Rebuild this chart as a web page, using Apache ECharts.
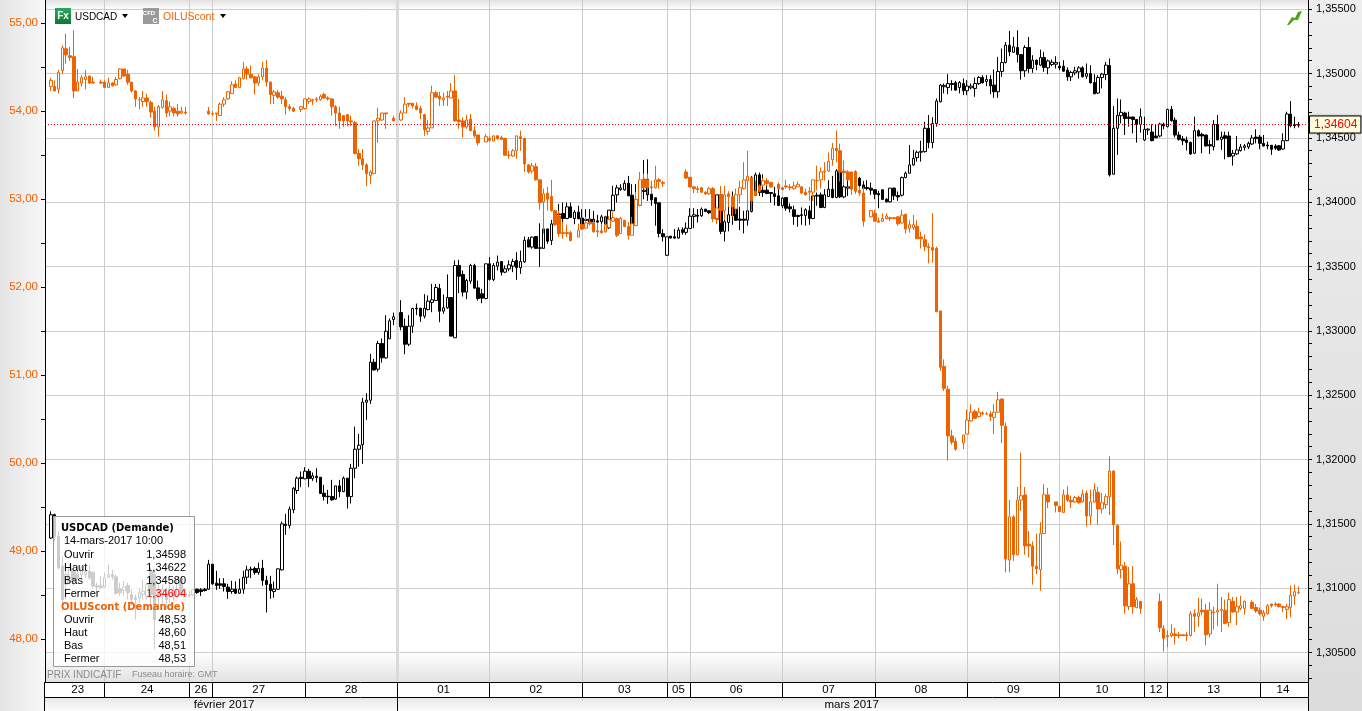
<!DOCTYPE html>
<html><head><meta charset="utf-8">
<style>html,body{margin:0;padding:0;background:#fff}#c{width:1362px;height:711px}</style>
<script src="https://cdn.jsdelivr.net/npm/echarts@6/dist/echarts.min.js"></script>
</head><body><div id="c"></div>
<script>
// rows are [open, close, low, high]
const usdFeb23 = [[1.3139,1.31571,1.31382,1.31597],[1.31571,1.31403,1.31364,1.31579],[1.31403,1.31158,1.31145,1.31442],[1.31171,1.30912,1.30822,1.31248],[1.31028,1.31106,1.30912,1.31132],[1.31054,1.31158,1.31028,1.31183],[1.31132,1.31054,1.31016,1.31145],[1.31106,1.3108,1.31067,1.31171],[1.31106,1.31158,1.3108,1.31171],[1.31106,1.31132,1.3108,1.31183],[1.31132,1.3108,1.31067,1.31176],[1.31124,1.31016,1.31003,1.31132],[1.31021,1.3101,1.30977,1.31041],[1.31016,1.31003,1.30995,1.31093],[1.3101,1.3108,1.31003,1.31119],[1.31085,1.31106,1.3108,1.31183],[1.31106,1.31088,1.31067,1.31145],[1.31088,1.30959,1.30951,1.31106],[1.30995,1.30964,1.30938,1.31041],[1.30984,1.3101,1.30938,1.31054],[1.31021,1.30964,1.30912,1.31041],[1.30951,1.30912,1.3086,1.3099],[1.30925,1.30912,1.30757,1.30951],[1.30925,1.30964,1.30886,1.31003],[1.30951,1.30977,1.30912,1.31067],[1.30938,1.31028,1.30912,1.31041],[1.31132,1.30951,1.30835,1.31158],[1.31106,1.30757,1.30525,1.31145],[1.3099,1.30938,1.30848,1.31028],[1.30951,1.3099,1.30873,1.31028],[1.30964,1.30912,1.30835,1.31003],[1.30938,1.3099,1.30886,1.31028],[1.30977,1.30938,1.30899,1.31016],[1.30951,1.31067,1.30938,1.3108],[1.3108,1.30951,1.30938,1.31093],[1.30938,1.30964,1.30933,1.3099],[1.30938,1.30951,1.30938,1.30977]];
const usdFeb26 = [[1.30948,1.30987,1.3094,1.30992],[1.30992,1.30966,1.30956,1.30995],[1.30987,1.30974,1.3094,1.31],[1.30992,1.30982,1.30974,1.31],[1.30992,1.31186,1.30987,1.3122],[1.31186,1.31034,1.31026,1.31186],[1.31039,1.31021,1.30987,1.31135],[1.31034,1.31023,1.30995,1.31078],[1.31034,1.31013,1.30974,1.31078],[1.31008,1.30974,1.30917,1.31034],[1.30974,1.30992,1.30956,1.31057],[1.30992,1.30961,1.30956,1.31052],[1.30961,1.30992,1.30956,1.31073],[1.30992,1.31085,1.30956,1.31135],[1.31085,1.31142,1.31034,1.31174],[1.31148,1.31142,1.31078,1.31168],[1.31153,1.31122,1.31104,1.31168],[1.31122,1.31153,1.31104,1.31199],[1.31155,1.3106,1.31018,1.3122],[1.3106,1.31028,1.30811,1.31096],[1.31031,1.30982,1.30917,1.31096],[1.30974,1.30992,1.30925,1.31052],[1.30992,1.3115,1.30987,1.31155],[1.31142,1.315,1.31137,1.31518],[1.31497,1.31487,1.31414,1.31578],[1.31487,1.31614,1.31464,1.31635],[1.31609,1.31777,1.31583,1.31785],[1.31759,1.31855,1.31733,1.31868],[1.31862,1.31852,1.31785,1.31907],[1.3185,1.31909,1.31847,1.3194],[1.31909,1.31852,1.31785,1.31927],[1.31852,1.31873,1.31834,1.31899],[1.3187,1.3186,1.31821,1.31932],[1.31862,1.31736,1.31733,1.31862],[1.31738,1.31712,1.31681,1.31803],[1.31715,1.3171,1.31655,1.31764],[1.31712,1.31686,1.31681,1.31842],[1.31692,1.31795,1.31686,1.31795],[1.31795,1.31751,1.31707,1.31842],[1.31751,1.31855,1.31746,1.31868],[1.31855,1.31712,1.31619,1.31855],[1.31712,1.31932,1.31658,1.31966],[1.31932,1.3208,1.31855,1.32256],[1.3208,1.32111,1.31945,1.32199],[1.32116,1.32445,1.31966,1.32479],[1.32445,1.32461,1.32308,1.32515],[1.32461,1.32756,1.32432,1.32821],[1.32756,1.32696,1.32691,1.32782],[1.32702,1.32902,1.32683,1.32922],[1.32902,1.3279,1.32753,1.32941],[1.3279,1.32997,1.32782,1.33122],[1.32938,1.33078,1.32936,1.33096],[1.33088,1.33109,1.33044,1.33142],[1.33109,1.33142,1.33096,1.33192],[1.33142,1.33031,1.33005,1.33238],[1.33036,1.32896,1.32818,1.33096],[1.32896,1.33036,1.32881,1.33122],[1.33036,1.33174,1.32984,1.33179],[1.33176,1.33171,1.33122,1.33212],[1.33176,1.33114,1.3307,1.33176],[1.33114,1.33176,1.33096,1.33285]];
const usdMar01 = [[1.33166,1.33231,1.33158,1.33275],[1.3322,1.33241,1.33145,1.33365],[1.33236,1.33337,1.33236,1.33365],[1.33329,1.33153,1.33067,1.33365],[1.33153,1.33179,1.33132,1.33282],[1.33179,1.33259,1.33171,1.33438],[1.33259,1.32959,1.32959,1.33259],[1.32946,1.33508,1.32946,1.33547],[1.33508,1.33425,1.33293,1.33552],[1.33438,1.33301,1.33267,1.33469],[1.33301,1.33391,1.33246,1.33404],[1.33386,1.33508,1.33365,1.33521],[1.33508,1.33332,1.33326,1.33521],[1.33334,1.33251,1.33236,1.33391],[1.33288,1.33254,1.33215,1.33326],[1.33251,1.33521,1.33246,1.33521],[1.33521,1.33399,1.33391,1.33573],[1.33399,1.33508,1.33386,1.33526],[1.33503,1.33534,1.33469,1.33585],[1.33539,1.33456,1.3343,1.33539],[1.33456,1.33482,1.33448,1.33508],[1.33482,1.33513,1.33464,1.33547],[1.33503,1.33539,1.33456,1.3356],[1.33547,1.3349,1.33396,1.33611],[1.3349,1.33539,1.33443,1.33624],[1.33536,1.33703,1.33528,1.33733],[1.33708,1.33651,1.33651,1.3373],[1.33651,1.33728,1.33638,1.33733],[1.33733,1.33641,1.33638,1.33733],[1.33641,1.33646,1.33497,1.33836],[1.33641,1.33792,1.33638,1.33797],[1.33792,1.33697,1.33677,1.33792],[1.33703,1.33831,1.33667,1.33862],[1.33887,1.33831,1.33826,1.33933],[1.33908,1.33903,1.33805,1.33985]];
const usdMar03 = [[1.33912,1.33873,1.33842,1.33997],[1.33873,1.33964,1.33868,1.33997],[1.33964,1.33881,1.33876,1.33997],[1.33873,1.33922,1.33829,1.33938],[1.33922,1.33871,1.33868,1.33972],[1.33876,1.33829,1.33791,1.33946],[1.33866,1.33858,1.33817,1.33946],[1.33868,1.3384,1.33829,1.33946],[1.33868,1.33845,1.33835,1.33933],[1.33855,1.33845,1.33835,1.33902],[1.33848,1.33886,1.33765,1.33902],[1.33886,1.33829,1.33765,1.33894],[1.33801,1.33938,1.33791,1.33938],[1.33933,1.34054,1.33933,1.34127],[1.34057,1.34111,1.33997,1.34134],[1.34098,1.34111,1.34088,1.3414],[1.34096,1.34147,1.3409,1.34171],[1.34147,1.34049,1.34049,1.34204],[1.34054,1.33829,1.33804,1.3414],[1.34018,1.33842,1.33829,1.3414],[1.34018,1.33977,1.33972,1.34171],[1.34083,1.34093,1.34023,1.34328],[1.34178,1.34057,1.3401,1.34333],[1.34062,1.34018,1.33972,1.34127],[1.34034,1.3399,1.33817,1.34034],[1.33995,1.33757,1.33726,1.33997],[1.33755,1.33731,1.33695,1.33791],[1.33587,1.33731,1.33584,1.33731],[1.33736,1.33721,1.33721,1.33736],[1.33731,1.33721,1.33716,1.33791],[1.33721,1.33783,1.33716,1.33804]];
const usdMar05 = [[1.33786,1.33765,1.33747,1.33804],[1.33765,1.33798,1.33747,1.33842],[1.33796,1.33891,1.33791,1.33953],[1.33889,1.33902,1.33798,1.33953],[1.33899,1.33891,1.33842,1.33946],[1.33894,1.33946,1.33886,1.33959],[1.33946,1.33928,1.33922,1.33946],[1.33933,1.33917,1.33907,1.33938],[1.33933,1.33873,1.33868,1.34049],[1.33868,1.34057,1.33855,1.34057],[1.34057,1.33773,1.33752,1.34057],[1.33773,1.33848,1.33695,1.33959],[1.33842,1.33902,1.33773,1.34031],[1.33894,1.33964,1.33824,1.34083],[1.33964,1.3386,1.33855,1.34049],[1.33868,1.3386,1.33783,1.33964],[1.33868,1.3386,1.33757,1.33933],[1.3386,1.33933,1.33817,1.33997],[1.33928,1.34057,1.3392,1.34204],[1.34054,1.34212,1.34049,1.3423],[1.34212,1.34075,1.34049,1.3423],[1.34093,1.34075,1.34041,1.34217],[1.34093,1.34067,1.34062,1.34171],[1.34075,1.34067,1.33997,1.34075],[1.34065,1.34044,1.33974,1.34119],[1.34049,1.33974,1.33969,1.34101],[1.33972,1.34031,1.33953,1.34041],[1.34036,1.33953,1.33933,1.34036],[1.33964,1.33948,1.3392,1.3399],[1.33941,1.33889,1.33824,1.33972],[1.33897,1.33889,1.33809,1.33902],[1.33902,1.33897,1.33824,1.33959],[1.33897,1.33941,1.33817,1.33953],[1.33933,1.33873,1.33824,1.33972],[1.33873,1.34049,1.33868,1.34049],[1.34054,1.34047,1.33972,1.34075],[1.34057,1.33959,1.33953,1.34075],[1.33959,1.34057,1.33953,1.34101],[1.34044,1.34101,1.34041,1.34171],[1.34101,1.34036,1.34031,1.34204],[1.34036,1.34243,1.34031,1.34256],[1.3423,1.34041,1.34031,1.3423],[1.34041,1.34119,1.34031,1.3423],[1.34109,1.34119,1.34049,1.3423],[1.3423,1.34103,1.34098,1.3423],[1.34235,1.34186,1.34178,1.34235],[1.34186,1.34129,1.34119,1.34196],[1.34134,1.34106,1.34057,1.34165],[1.34114,1.34106,1.34093,1.34171],[1.34109,1.34093,1.34057,1.34152],[1.34096,1.34062,1.34023,1.34101],[1.34067,1.34057,1.33953,1.34088],[1.34096,1.34021,1.34016,1.34101],[1.34023,1.34003,1.33997,1.34031],[1.34003,1.34109,1.33997,1.34109],[1.34109,1.34049,1.34016,1.34114],[1.34052,1.34041,1.3401,1.34083]];
const usdMar08 = [[1.34054,1.34191,1.34044,1.34199],[1.34191,1.34225,1.34186,1.34238],[1.34225,1.34289,1.34225,1.34444],[1.34289,1.34341,1.34284,1.34406],[1.34346,1.34388,1.34315,1.34401],[1.34388,1.34395,1.34315,1.34478],[1.34393,1.34574,1.34385,1.34625],[1.34574,1.34463,1.34419,1.34677],[1.34463,1.34612,1.34419,1.34659],[1.34612,1.34786,1.34587,1.34806],[1.3478,1.3491,1.34775,1.34917],[1.34897,1.34907,1.34845,1.34922],[1.34891,1.34922,1.3484,1.34995],[1.34922,1.34915,1.34866,1.34948],[1.34928,1.34871,1.34866,1.34943],[1.34891,1.3493,1.34845,1.34941],[1.34922,1.34866,1.34832,1.34961],[1.34866,1.34902,1.34832,1.34948],[1.34889,1.34902,1.34876,1.34922],[1.34884,1.34922,1.34819,1.34969],[1.34922,1.34969,1.3491,1.34979],[1.34969,1.34928,1.34922,1.34987],[1.34938,1.34953,1.34902,1.34987],[1.34953,1.34904,1.3484,1.34987],[1.3491,1.34858,1.34811,1.35031],[1.34858,1.35016,1.34811,1.35129],[1.35016,1.35085,1.34974,1.35194],[1.35085,1.3522,1.35078,1.35245],[1.3522,1.35168,1.35134,1.35331],[1.35165,1.35207,1.3516,1.35284],[1.35202,1.35147,1.35085,1.35336],[1.35147,1.35021,1.34953,1.35147],[1.35021,1.35202,1.34974,1.3522],[1.35202,1.35039,1.35005,1.35284],[1.35039,1.35103,1.35005,1.35142],[1.35103,1.3507,1.35026,1.35109],[1.35065,1.35124,1.35057,1.35186],[1.35124,1.35047,1.35013,1.35168],[1.35044,1.35098,1.34995,1.35109],[1.3507,1.35088,1.35057,1.35109],[1.35072,1.35085,1.35039,1.35134],[1.35057,1.35044,1.35026,1.3509],[1.35057,1.35018,1.35013,1.35103],[1.35026,1.34974,1.34943,1.35047],[1.34974,1.35008,1.34941,1.35021],[1.35005,1.35021,1.34987,1.35052],[1.35013,1.35044,1.34961,1.35057],[1.35044,1.34974,1.34969,1.35057],[1.34979,1.35,1.34959,1.35078],[1.35,1.34928,1.34922,1.35065],[1.3493,1.34842,1.3484,1.34995],[1.34848,1.34969,1.3484,1.34987],[1.34969,1.34995,1.34884,1.35005],[1.34992,1.35065,1.34948,1.3509]];
const usdMar10b = [[1.35062,1.34212,1.34199,1.35116],[1.34217,1.34574,1.34217,1.34747],[1.34574,1.34674,1.34367,1.34806],[1.34672,1.34698,1.34612,1.34798],[1.34693,1.34649,1.34522,1.34703],[1.34662,1.34651,1.34587,1.34703],[1.34662,1.34643,1.34535,1.34664],[1.34643,1.34605,1.34463,1.34643],[1.34605,1.34664,1.3454,1.34729],[1.34483,1.34566,1.34475,1.34664],[1.34561,1.34568,1.34522,1.34574],[1.34545,1.34478,1.34473,1.34605],[1.34514,1.34501,1.34496,1.34605],[1.34514,1.34607,1.34504,1.34618],[1.34607,1.34592,1.34566,1.34618],[1.34587,1.34721,1.34581,1.34726],[1.34721,1.34633,1.34625,1.34747],[1.34638,1.34522,1.34504,1.34659],[1.34522,1.34488,1.34478,1.34548],[1.34491,1.34478,1.34444,1.34514],[1.34483,1.34463,1.34401,1.34509],[1.34465,1.34375,1.34367,1.3447],[1.3438,1.34556,1.34375,1.34664],[1.34556,1.34514,1.34509,1.34566],[1.34527,1.34514,1.3438,1.3454],[1.34522,1.34437,1.34432,1.34522],[1.34447,1.34437,1.34375,1.34483],[1.34432,1.34605,1.34401,1.34638],[1.34605,1.34483,1.34483,1.34677],[1.34488,1.34506,1.34406,1.34548],[1.34517,1.34496,1.34333,1.34548],[1.34514,1.34354,1.34349,1.34548],[1.34359,1.3438,1.34284,1.34406],[1.34375,1.34406,1.34367,1.34514],[1.34401,1.34429,1.34393,1.34452],[1.34426,1.34437,1.34401,1.34452],[1.34429,1.34457,1.34413,1.3447],[1.34452,1.34499,1.34444,1.34522],[1.34506,1.34494,1.34457,1.34566],[1.34506,1.34457,1.34411,1.34522],[1.34457,1.34437,1.34432,1.34522],[1.34444,1.34437,1.34411,1.3447],[1.34442,1.34411,1.34367,1.34442],[1.34437,1.34419,1.34406,1.3445],[1.34439,1.34406,1.34398,1.34444],[1.34413,1.34478,1.34408,1.34535],[1.34478,1.34685,1.34475,1.34703],[1.34685,1.34594,1.34581,1.34786],[1.34602,1.34594,1.34574,1.34664],[1.34598,1.34604,1.3458,1.34622]];

const oilA = [[54.28,54.35,54.23,54.38],[54.28,54.23,54.23,54.35],[54.25,54.44,54.2,54.47],[54.46,54.72,54.42,54.75],[54.71,54.64,54.54,54.88],[54.63,54.61,54.57,54.73],[54.62,54.23,54.15,54.92],[54.23,54.33,54.23,54.48],[54.32,54.38,54.28,54.41],[54.36,54.39,54.25,54.47],[54.4,54.32,54.31,54.4],[54.33,54.32,54.32,54.39]];
const oilB = [[54.33,54.32,54.31,54.36],[54.33,54.27,54.27,54.35],[54.27,54.32,54.27,54.38],[54.32,54.29,54.28,54.33],[54.3,54.36,54.29,54.39],[54.37,54.48,54.36,54.49],[54.48,54.4,54.39,54.48],[54.42,54.33,54.3,54.47],[54.33,54.23,54.21,54.33],[54.23,54.14,54.05,54.24],[54.13,54.13,54.02,54.16],[54.11,54.15,54.05,54.23],[54.15,54.11,54.05,54.2],[54.1,53.99,53.93,54.12],[54,53.82,53.78,54.05],[53.82,54.05,53.71,54.07],[54.04,54.13,54.03,54.23],[54.12,53.98,53.93,54.19],[54,54.05,53.94,54.11],[54.03,53.98,53.94,54.05],[54,53.97,53.94,54.08],[53.98,54,53.97,54.05],[53.99,53.98,53.96,54.05]];
const oilC = [[54,53.97,53.96,54.05],[53.97,53.97,53.95,54],[53.98,53.97,53.89,53.98],[53.95,54.08,53.95,54.1],[54.08,54.13,54.05,54.16],[54.14,54.22,54.13,54.23],[54.2,54.3,54.2,54.34],[54.31,54.27,54.27,54.35],[54.27,54.38,54.27,54.39],[54.37,54.48,54.36,54.56],[54.48,54.42,54.36,54.51],[54.42,54.38,54.37,54.52],[54.39,54.32,54.19,54.4],[54.32,54.39,54.29,54.42],[54.39,54.49,54.35,54.56],[54.49,54.33,54.28,54.58],[54.33,54.19,54.08,54.34],[54.18,54.22,54.08,54.24],[54.21,54.16,54.14,54.24],[54.17,54.14,54.08,54.23],[54.13,54.05,53.96,54.16],[54.05,54.03,54,54.08],[54.03,54,53.99,54.05]];
const oilD = [[54.02,54.05,53.99,54.06],[54.03,54.14,54.02,54.14],[54.11,54.14,54.08,54.16],[54.12,54.13,54.07,54.14],[54.13,54.14,54.1,54.16],[54.13,54.17,54.12,54.19],[54.19,54.15,54.14,54.21],[54.15,54.14,54.12,54.17],[54.14,54.05,53.95,54.14],[54.05,53.98,53.83,54.07],[53.98,53.89,53.8,54.05],[53.95,53.89,53.82,53.95],[53.96,53.89,53.83,53.97],[53.89,53.88,53.83,53.95],[53.87,53.52,53.51,53.89],[53.52,53.46,53.38,53.57],[53.46,53.39,53.33,53.57],[53.39,53.29,53.15,53.41],[53.27,53.31,53.17,53.33],[53.29,53.89,53.29,53.89],[53.89,53.92,53.64,54.04],[53.9,53.98,53.89,53.98],[53.98,53.97,53.8,53.98]];
const oilE = [[53.92,53.89,53.89,53.95],[53.92,53.9,53.89,53.92],[53.9,53.98,53.89,54.01],[53.98,54.08,53.98,54.16],[54.09,54.08,54.05,54.09],[54.09,54.06,54.03,54.09],[54.06,54.02,54.01,54.1],[54.03,53.98,53.91,54.06],[53.96,53.79,53.72,53.97],[53.77,53.81,53.73,53.9],[53.81,54.21,53.81,54.29],[54.21,54.16,54.15,54.23],[54.17,54.14,54.06,54.22],[54.13,54.15,54.06,54.21],[54.17,54.16,54.06,54.23],[54.15,54.23,54.15,54.32],[54.23,53.89,53.88,54.41],[53.9,53.88,53.8,54.14],[53.89,53.82,53.7,53.93],[53.82,53.9,53.8,53.96],[53.91,53.78,53.77,53.97],[53.78,53.72,53.7,53.83],[53.73,53.64,53.61,53.73]];
const oilF = [[53.65,53.71,53.65,53.74],[53.69,53.67,53.65,53.72],[53.66,53.72,53.66,53.72],[53.72,53.69,53.67,53.73],[53.7,53.68,53.67,53.72],[53.69,53.5,53.5,53.7],[53.5,53.5,53.46,53.55],[53.49,53.55,53.48,53.57],[53.55,53.72,53.46,53.72],[53.71,53.69,53.55,53.78],[53.69,53.4,53.31,53.7],[53.39,53.31,53.29,53.4],[53.32,53.38,53.29,53.41],[53.37,53.22,53.21,53.41],[53.22,52.96,52.88,53.22],[52.97,53.06,52.61,53.12],[53.07,53,52.87,53.14],[53.03,52.87,52.86,53.22],[52.87,52.71,52.7,52.87],[52.81,52.61,52.57,52.87],[52.62,52.61,52.55,52.74],[52.62,52.61,52.57,52.71],[52.62,52.53,52.52,52.64]];
const oilG = [[52.57,52.65,52.57,52.72],[52.71,52.66,52.65,52.79],[52.67,52.73,52.67,52.8],[52.74,52.72,52.7,52.78],[52.73,52.63,52.62,52.77],[52.64,52.63,52.57,52.72],[52.64,52.62,52.61,52.72],[52.63,52.71,52.62,52.8],[52.68,52.77,52.67,52.81],[52.75,52.79,52.74,52.85],[52.78,52.59,52.57,52.79],[52.61,52.78,52.61,52.8],[52.76,52.69,52.68,52.76],[52.69,52.59,52.54,52.74],[52.59,52.72,52.59,52.8],[52.7,53,52.7,53.08],[52.93,53.22,52.92,53.31],[53.23,53.13,53.12,53.29],[53.22,53.13,53.06,53.29],[53.14,53.13,53.06,53.21],[53.13,53.22,53.12,53.38],[53.22,53.2,53.12,53.24],[53.19,53.18,53.14,53.21]];
const oilH = [[53.31,53.24,53.23,53.34],[53.25,53.14,53.13,53.25],[53.14,53.12,53.07,53.15],[53.12,53.11,53.07,53.15],[53.13,53.08,53.07,53.14],[53.08,53.06,53.05,53.09],[53.06,53.12,53.05,53.14],[53.12,52.78,52.74,53.14],[52.78,52.9,52.72,52.9],[53.05,52.87,52.73,53.15],[52.87,53.05,52.76,53.15],[53.06,53.03,52.91,53.09],[53.03,52.91,52.8,53.04],[52.89,53.05,52.83,53.12],[53.05,53.13,52.95,53.21],[53.12,53.22,53.11,53.42],[53.21,53.26,52.87,53.55],[53.25,52.98,52.87,53.25],[53.09,53.05,53.04,53.21],[53.15,53.09,53.08,53.17],[53.16,53.21,53.14,53.24],[53.21,53.18,53.15,53.24],[53.19,53.14,53.13,53.2]];
const oilI = [[53.17,53.12,53.12,53.19],[53.13,53.11,53.1,53.14],[53.15,53.14,53.12,53.22],[53.14,53.13,53.1,53.17],[53.12,53.15,53.11,53.2],[53.14,53.17,53.14,53.2],[53.14,53.07,53.06,53.15],[53.08,53.05,53.04,53.12],[53.09,53.08,52.98,53.14],[53.08,53.22,52.98,53.22],[53.21,53.21,53.1,53.38],[53.22,53.31,53.12,53.36],[53.31,53.32,53.21,53.42],[53.32,53.43,53.31,53.53],[53.45,53.58,53.38,53.64],[53.58,53.55,53.42,53.78],[53.55,53.31,53.2,53.63],[53.32,53.3,53.16,53.44],[53.31,53.22,53.21,53.33],[53.31,53.12,53.05,53.31],[53.31,53.09,53.06,53.33],[53.1,53.07,53.04,53.14],[53.07,52.75,52.69,53.14]];
const oilJ = [[52.8,52.87,52.79,52.88],[52.84,52.75,52.75,52.88],[52.75,52.74,52.73,52.79],[52.75,52.78,52.74,52.84],[52.78,52.81,52.77,52.84],[52.79,52.78,52.75,52.8],[52.79,52.78,52.78,52.79],[52.8,52.72,52.7,52.8],[52.73,52.82,52.72,52.88],[52.83,52.66,52.61,52.83],[52.67,52.71,52.62,52.76],[52.68,52.71,52.65,52.82],[52.69,52.55,52.55,52.76],[52.57,52.55,52.44,52.63],[52.54,52.46,52.41,52.6],[52.46,52.45,52.27,52.5],[52.45,52.42,52.28,52.84],[52.44,51.72,51.72,52.46],[51.73,51.09,51.05,51.73],[51.1,50.85,50.82,51.18],[50.84,50.31,50.03,50.88],[50.31,50.24,50.21,50.38],[50.25,50.16,50.14,50.29]];
const oilK = [[50.23,50.32,50.16,50.32],[50.33,50.49,50.33,50.61],[50.48,50.58,50.47,50.67],[50.59,50.51,50.5,50.61],[50.53,50.58,50.52,50.63],[50.57,50.56,50.55,50.59],[50.56,50.56,50.55,50.58],[50.56,50.53,50.48,50.59],[50.52,50.58,50.33,50.67],[50.58,50.72,50.57,50.81],[50.73,50.43,50.23,50.73],[50.42,48.91,48.76,50.46],[48.9,49.39,48.76,49.58],[49.39,48.96,48.89,49.41],[48.96,49.58,48.95,49.73],[49.58,49.63,49.46,50.12],[49.64,49.06,48.96,49.73],[49.08,49.06,48.93,49.23],[49.06,48.83,48.62,49.11],[48.83,48.8,48.74,49.2],[48.79,49.2,48.55,49.33],[49.2,49.64,49.2,49.76],[49.64,49.56,49.49,49.72]];
const oilL = [[49.56,49.52,49.44,49.56],[49.51,49.45,49.45,49.51],[49.44,49.64,49.44,49.7],[49.64,49.58,49.56,49.74],[49.58,49.56,49.49,49.63],[49.56,49.61,49.55,49.63],[49.61,49.55,49.54,49.63],[49.56,49.65,49.55,49.7],[49.66,49.4,49.28,49.69],[49.4,49.56,49.3,49.7],[49.56,49.7,49.55,49.77],[49.67,49.48,49.3,49.73],[49.48,49.55,49.43,49.66],[49.53,49.62,49.48,49.65],[49.62,49.91,49.41,50.08],[49.91,49.3,49.07,49.92],[49.29,48.8,48.74,49.31],[48.79,48.84,48.69,49.11],[48.83,48.38,48.29,48.88],[48.37,48.63,48.33,48.82],[48.63,48.37,48.29,48.83],[48.36,48.45,48.35,48.48],[48.43,48.35,48.29,48.43]];
const oilM = [[48.43,48.13,48.08,48.52],[48.12,48.01,47.86,48.16],[48.04,48.03,47.91,48.1],[48.04,48.07,48.02,48.17],[48.06,48.04,47.94,48.13],[48.05,48.04,48.01,48.08],[48.05,48.04,48.04,48.05],[48.05,48.04,47.98,48.08],[48.04,48.29,48.03,48.32],[48.29,48.26,48.08,48.34],[48.26,48.3,48.14,48.47],[48.33,48.31,48.27,48.46],[48.33,48.05,47.93,48.4],[48.06,48.33,48.02,48.42],[48.31,48.3,48.11,48.37],[48.31,48.33,48.15,48.63],[48.34,48.33,48.08,48.48],[48.33,48.18,48.17,48.45],[48.19,48.45,48.14,48.53],[48.43,48.31,48.3,48.48],[48.31,48.37,48.16,48.48],[48.35,48.38,48.33,48.49],[48.35,48.43,48.28,48.44]];
const oilN = [[48.42,48.35,48.35,48.44],[48.36,48.32,48.3,48.4],[48.33,48.29,48.27,48.36],[48.26,48.3,48.21,48.33],[48.29,48.38,48.28,48.4],[48.4,48.38,48.36,48.4],[48.4,48.39,48.37,48.42],[48.4,48.37,48.36,48.41],[48.37,48.36,48.31,48.38],[48.34,48.37,48.23,48.4],[48.36,48.5,48.25,48.61],[48.49,48.54,48.39,48.62],[48.53,48.53,48.51,48.6]];

const usdParts = [[1,usdFeb23],[38,usdFeb26],[99,usdMar01],[134,usdMar03],[165,usdMar05],[222,usdMar08],[276,usdMar10b]];
const oilParts = [[1,oilA],[14,oilB],[42,oilC],[66,oilD],[90,oilE],[114,oilF],[138,oilG],[166,oilH],[190,oilI],[214,oilJ],[238,oilK],[262,oilL],[289,oilM],[313,oilN]];

const slotCount = 328;
const dayLabels = ['23','24','26','27','28','01','02','03','05','06','07','08','09','10','12','13','14'];
const dayEdges  = [1,15,37,43,67,91,115,139,161,167,191,215,239,263,285,291,315,327];
const monthLabels = ['février 2017','mars 2017'];
const monthEdges  = [0,91,327];
const oilTicks = [48,49,50,51,52,53,54,55];
const oilMinorTicks = [48,48.5,49,49.5,50,50.5,51,51.5,52,52.5,53,53.5,54,54.5,55];
const usdTicks = [1.305,1.31,1.315,1.32,1.325,1.33,1.335,1.34,1.345,1.35,1.355];
const lastClose = 1.34604;
const usdMinorTicks = [];
for (let t = 1303; t <= 1355; t++) usdMinorTicks.push(t / 1000);

const ORANGE = '#ee6200', FONT = '"Liberation Sans"';
const USD_MIN = 1.302708, USD_MAX = 1.355712, OIL_MIN = 47.5136, OIL_MAX = 55.2636;

function build(parts){
  const a = [];
  for (let i = 0; i < slotCount; i++) a.push(['-','-','-','-']);
  parts.forEach(([s, rows]) => rows.forEach((r, i) => { a[s + i] = r; }));
  return a;
}
const slots = []; for (let i = 0; i < slotCount; i++) slots.push('s' + i);
function bandLabels(edges, labels){
  const a = slots.map(() => '\u200b');
  labels.forEach((l, i) => { a[Math.round((edges[i] + edges[i + 1]) / 2)] = l; });
  return a;
}
const dayCats = bandLabels(dayEdges, dayLabels);
const monthCats = bandLabels(monthEdges, monthLabels);
const innerDays = dayEdges.slice(1, -1), innerMonth = monthEdges.slice(1, -1);

const comma = d => v => v.toFixed(d).replace('.', ',');
const grey = '#cccccc';

const rect = (x,y,w,h,fill,z) => ({type:'rect',silent:true,z:z===undefined?-10:z,shape:{x,y,width:w,height:h},style:{fill}});
const vgrad = (a,b) => new echarts.graphic.LinearGradient(0,0,0,1,[{offset:0,color:a},{offset:1,color:b}]);
const hgrad = (a,b) => new echarts.graphic.LinearGradient(0,0,1,0,[{offset:0,color:a},{offset:1,color:b}]);
const txt = (x,y,text,o) => ({type:'text',silent:true,z:o&&o.z||110,x,y,style:Object.assign({text,fill:'#000',font:'11px '+FONT,textVerticalAlign:'middle'},o||{})});

const ttLeft = 64, ttRight = 186;
const ttRows1 = [['Ouvrir','1,34598',555],['Haut','1,34622',568],['Bas','1,34580',581],['Fermer','1,34604',594]];
const ttRows2 = [['Ouvrir','48,53',620],['Haut','48,60',633],['Bas','48,51',646],['Fermer','48,53',659]];
const ttEls = [
  {type:'rect',silent:true,z:100,shape:{x:53.5,y:516.5,width:141,height:150},style:{fill:'rgba(255,255,255,0.8)',stroke:'#999',lineWidth:1}},
  txt(61,528,'USDCAD (Demande)',{font:'bold 10px "DejaVu Sans"'}),
  txt(64,541,'14-mars-2017 10:00',{font:'11px '+FONT}),
  txt(61,607,'OILUScont (Demande)',{font:'bold 10px "DejaVu Sans"',fill:ORANGE})
];
ttRows1.concat(ttRows2).forEach((r,i) => {
  ttEls.push(txt(ttLeft,r[2],r[0],{font:'11px '+FONT}));
  ttEls.push(txt(ttRight,r[2],r[1],{font:'11px '+FONT,textAlign:'right',fill:i===3?'#ff0000':'#000'}));
});

const graphics = [
  rect(0,0,45,711,hgrad('#e4e4e4','#f8f8f8')),
  rect(1308,0,54,711,vgrad('#eeeeee','#dcdcdc')),
  rect(45,0,1263,10,vgrad('#e2e2e2','#ffffff')),
  rect(45,652,1263,30,vgrad('#ffffff','#e2e2e2')),
  rect(45,682,1263,15,'#ffffff'),
  rect(45,697,1263,14,vgrad('#e6e6e6','#fbfbfb')),
  {type:'line',silent:true,z:50,shape:{x1:44.5,y1:682,x2:44.5,y2:711},style:{stroke:'#000',lineWidth:1}},
  {type:'line',silent:true,z:50,shape:{x1:1308.5,y1:682,x2:1308.5,y2:711},style:{stroke:'#000',lineWidth:1}},
  // toolbar
  rect(55,8,16,16,vgrad('#2aa65a','#0e7a38'),60),
  txt(63,16,'Fx',{fill:'#fff',font:'bold 10px '+FONT,textAlign:'center'}),
  txt(75,17,'USDCAD',{font:'10px '+FONT}),
  {type:'polygon',silent:true,z:110,shape:{points:[[122,14],[128,14],[125,18]]},style:{fill:'#000'}},
  rect(143,8,16,16,'#9a9a9a',60),
  txt(149,13,'CFD',{fill:'#fff',font:'bold 6px '+FONT,textAlign:'center'}),
  txt(155,21,'C',{fill:'#fff',font:'bold 7px '+FONT,textAlign:'center'}),
  txt(163,17,'OILUScont',{font:'10.5px '+FONT,fill:ORANGE}),
  {type:'polygon',silent:true,z:110,shape:{points:[[220,14],[226,14],[223,18]]},style:{fill:'#000'}},
  // trend icon
  {type:'polygon',silent:true,z:110,shape:{points:[[1287,25],[1292,17],[1295,18],[1298,12],[1302,11],[1298,20],[1294,20],[1289,25]]},style:{fill:'#4aa818'}},
  txt(47,675,'PRIX INDICATIF',{font:'10px '+FONT,fill:'#8a8a8a',z:110}),
  txt(132,675,'Fuseau horaire: GMT',{font:'9px '+FONT,fill:'#8a8a8a',z:110})
].concat(ttEls);

const option = {
  animation:false,
  backgroundColor:'#fff',
  textStyle:{fontFamily:FONT,fontSize:11},
  grid:{left:45,right:54,top:0,bottom:29,containLabel:false},
  xAxis:[
    {type:'category',data:slots,boundaryGap:true,position:'bottom',axisLine:{show:false},axisTick:{show:false},axisLabel:{show:false},
      splitLine:{show:true,alignWithLabel:true,interval:i=>innerDays.includes(i)&&i!==91,lineStyle:{color:grey,width:1}}},
    {type:'category',data:dayCats,boundaryGap:true,position:'bottom',offset:0,axisLine:{show:true,lineStyle:{color:'#000',width:1}},
      axisTick:{show:true,alignWithLabel:true,length:15,interval:i=>innerDays.includes(i),lineStyle:{color:'#000'}},
      axisLabel:{show:true,interval:0,color:'#000',fontFamily:FONT,fontSize:11.5,margin:2,hideOverlap:false},splitLine:{show:false}},
    {type:'category',data:monthCats,boundaryGap:true,position:'bottom',offset:15,axisLine:{show:true,lineStyle:{color:'#000',width:1}},
      axisTick:{show:true,alignWithLabel:true,length:14,interval:i=>innerMonth.includes(i),lineStyle:{color:'#000'}},
      axisLabel:{show:true,interval:0,color:'#000',fontFamily:FONT,fontSize:11.5,margin:2,hideOverlap:false},splitLine:{show:false}}
  ],
  yAxis:[
    {type:'value',position:'left',min:OIL_MIN,max:OIL_MAX,axisLine:{show:true,lineStyle:{color:'#000'}},
      axisTick:{show:true,length:4,customValues:oilMinorTicks,lineStyle:{color:'#000'}},
      axisLabel:{customValues:oilTicks,color:ORANGE,fontFamily:FONT,fontSize:11.5,margin:7,formatter:comma(2)},splitLine:{show:false}},
    {type:'value',position:'right',min:USD_MIN,max:USD_MAX,axisLine:{show:true,lineStyle:{color:'#000'}},
      axisTick:{show:true,length:4,customValues:usdMinorTicks,lineStyle:{color:'#000'}},
      axisLabel:{customValues:usdTicks,color:'#000',fontFamily:FONT,fontSize:11,margin:8,formatter:comma(5)},splitLine:{show:false}},
    {type:'value',position:'right',min:USD_MIN,max:USD_MAX,axisLine:{show:false},
      axisTick:{show:false,customValues:usdTicks},axisLabel:{show:false,customValues:usdTicks},
      splitLine:{show:true,lineStyle:{color:grey,width:1}}}
  ],
  graphic:{elements:graphics},
  series:[
    {type:'line',name:'monthLine',xAxisIndex:0,yAxisIndex:1,data:[],z:1,silent:true,
      markLine:{silent:true,symbol:'none',animation:false,label:{show:false},
        data:[{xAxis:91,lineStyle:{color:'#dadada',width:3,type:'solid'}}]}},
    {type:'candlestick',name:'USDCAD',xAxisIndex:0,yAxisIndex:1,z:3,barWidth:3,silent:true,
      data:build(usdParts),
      itemStyle:{color:'#ffffff',color0:'#000000',borderColor:'#000000',borderColor0:'#000000',borderWidth:1}},
    {type:'candlestick',name:'OILUScont',xAxisIndex:0,yAxisIndex:0,z:3,barWidth:3,silent:true,
      data:build(oilParts),
      itemStyle:{color:'#ffffff',color0:ORANGE,borderColor:ORANGE,borderColor0:ORANGE,borderWidth:1}},
    {type:'line',name:'lastPrice',xAxisIndex:0,yAxisIndex:1,data:[],z:4,silent:true,
      markLine:{silent:true,symbol:'none',animation:false,precision:5,
        lineStyle:{color:'#e00000',type:[1,2],width:1},
        label:{show:true,position:'end',distance:2,formatter:()=>comma(5)(lastClose),color:'#ff0000',fontFamily:FONT,fontSize:12,
          backgroundColor:'#ffffe0',borderColor:'#000',borderWidth:1,padding:[2,3,2,4],shadowColor:'rgba(0,0,0,0.3)',shadowBlur:2},
        data:[{yAxis:lastClose}]}}
  ]
};
echarts.init(document.getElementById('c'),null,{renderer:'canvas'}).setOption(option);
</script></body></html>
